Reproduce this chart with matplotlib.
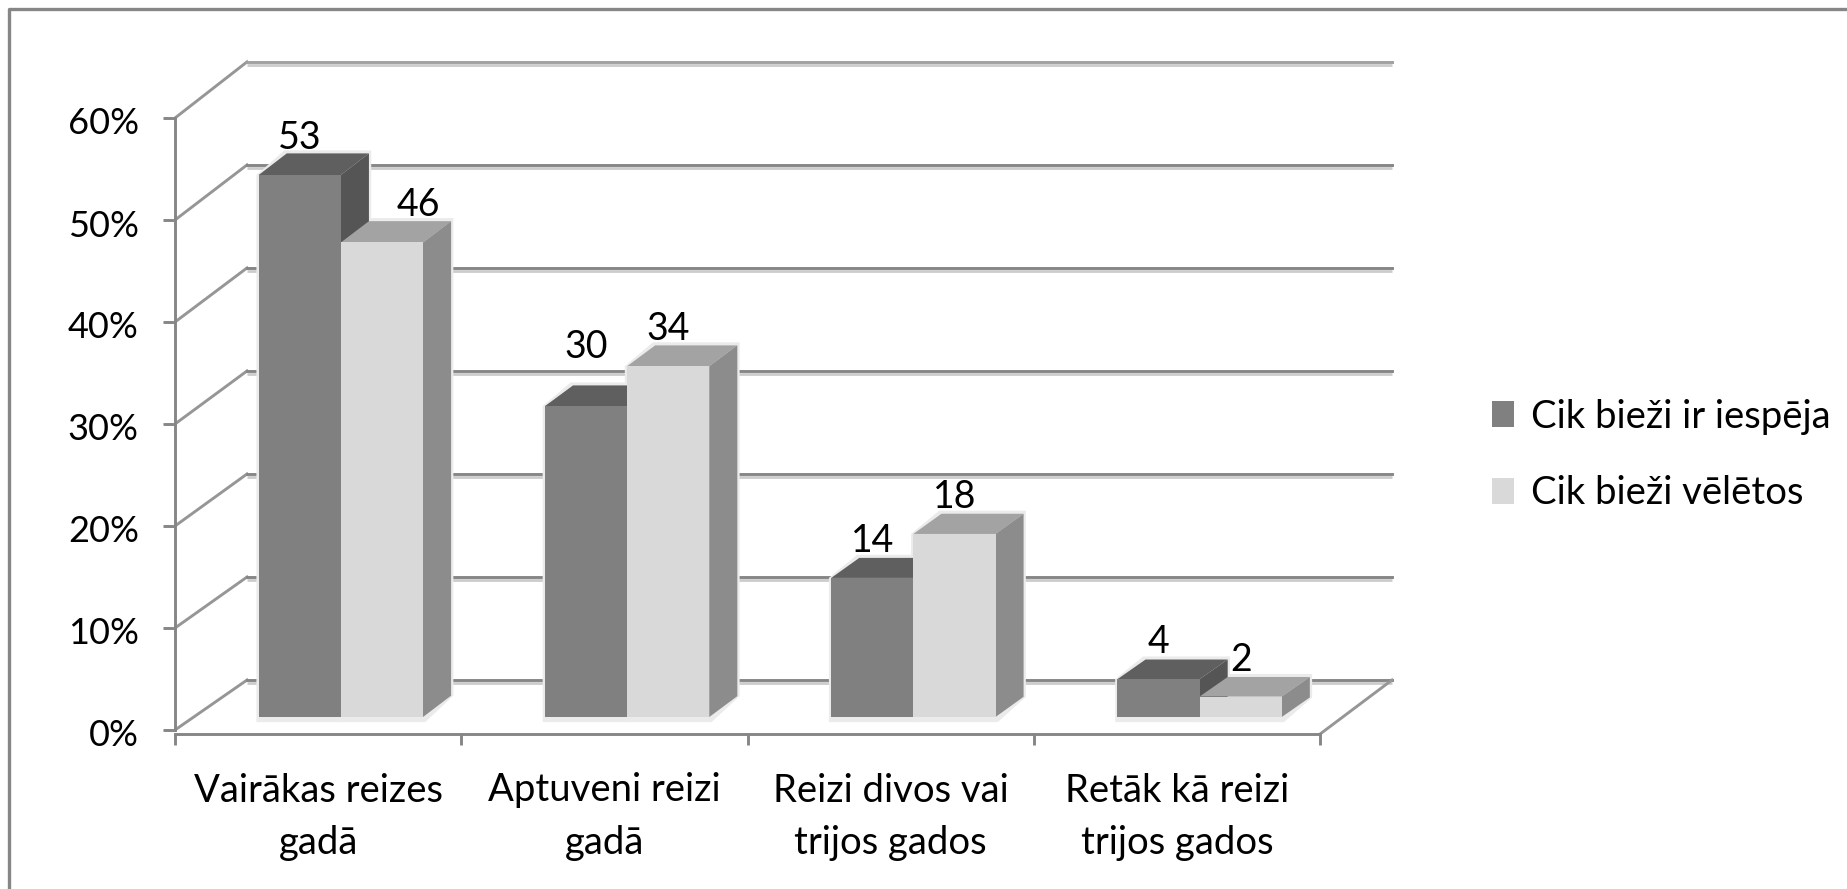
import matplotlib
matplotlib.use("Agg")
import matplotlib.pyplot as plt
from matplotlib.lines import Line2D
from matplotlib.patches import Patch, Polygon
from matplotlib.transforms import ScaledTranslation

categories = ["Vairākas reizes\ngadā", "Aptuveni reizi\ngadā", "Reizi divos vai\ntrijos gados", "Retāk kā reizi\ntrijos gados"]
series_names = ["Cik bieži ir iespēja", "Cik bieži vēlētos"]
# bar heights, the labels show them rounded
iespeja = [53.0, 30.4, 13.6, 3.7]
veletos = [46.4, 34.3, 17.9, 2.0]
y_ticks = [0, 10, 20, 30, 40, 50, 60]

W, H = 1847, 889
# front plane of the fake 3d box, in pixels
LEFT, RIGHT, Y0, Y60 = 175, 1320, 730, 118
DEPTH_X = 72 / ((RIGHT - LEFT) / 4)  # in category units
GAP = 0.227
BAR_W = 0.287
D_FRONT, D_BACK = 0.26, 0.65

GRID = "#868686"
SHADOW = "#cccccc"
HALO = "#ebebeb"
COLORS = [("#808080", "#5f5f5f", "#555555"), ("#d9d9d9", "#a3a3a3", "#8c8c8c")]

plt.rcParams["font.family"] = ["Lato", "DejaVu Sans"]

fig = plt.figure(figsize=(W / 100, H / 100), dpi=100)
ax = fig.add_axes([LEFT / W, 1 - Y0 / H, (RIGHT - LEFT) / W, (Y0 - Y60) / H])
ax.set_xlim(0, 4)
ax.set_ylim(0, 60)
ax.patch.set_alpha(0)


def project(x, v, d):
    # category pos, percent, depth 0..1 -> axes data
    return x + d * DEPTH_X, v * (1 + 0.01 * d) + 4.9 * d


# walls and gridlines
for t in y_ticks:
    x0, y0 = project(0, t, 0)
    x1, y1 = project(0, t, 1)
    x2, y2 = project(4, t, 1)
    c = "#a0a0a0" if t == 60 else GRID
    ax.plot([x1, x2], [y1 - 0.3, y2 - 0.3], color=SHADOW, lw=2.0, zorder=1, clip_on=False, solid_capstyle="butt")
    ax.plot([x0, x1], [y0, y1], color="#969696", lw=2.1, zorder=2, clip_on=False)
    ax.plot([x1, x2], [y1, y2], color=c, lw=2.1, zorder=2, clip_on=False)
x0, y0 = project(4, 0, 0)
x1, y1 = project(4, 0, 1)
ax.plot([x0, x1], [y0 - 0.4, y1], color="#969696", lw=2.1, zorder=2, clip_on=False)


def draw_bar(x, v, colors):
    front, top, side = colors
    fx, fy = project(x, 0, D_FRONT)
    tx, ty = project(x, v, D_FRONT)
    h = ty - fy
    bx, by = project(x, v, D_BACK)
    dx, dy = bx - tx, by - ty
    xs = [fx, fx + BAR_W, fx + BAR_W + dx, fx + dx]
    # light edge round the whole bar
    ax.add_patch(Polygon([(fx - 0.008, fy - 0.5), (fx + BAR_W + 0.008, fy - 0.5), (fx + BAR_W + dx + 0.008, fy + dy),
                          (fx + BAR_W + dx + 0.008, ty + dy + 0.3), (fx + dx - 0.008, ty + dy + 0.3), (fx - 0.008, ty)],
                         fc=HALO, ec="none", zorder=3, clip_on=False))
    ax.bar(fx, h, BAR_W, bottom=fy, align="edge", color=front, zorder=5, clip_on=False)
    ax.add_patch(Polygon([(xs[0], ty), (xs[1], ty), (xs[2], ty + dy), (xs[3], ty + dy)], fc=top, ec="none", zorder=4, clip_on=False))
    ax.add_patch(Polygon([(xs[1], fy), (xs[1], ty), (xs[2], ty + dy), (xs[2], fy + dy)], fc=side, ec="none", zorder=4, clip_on=False))
    return fx + BAR_W / 2, ty


# hand placed labels in the original: (series, category) -> px shift
label_shift = {(1, 0): (36, 0), (0, 1): (0, 22)}
for s, vals in enumerate([iespeja, veletos]):
    for i, v in enumerate(vals):
        cx, ty = draw_bar(i + GAP + s * BAR_W, v, COLORS[s])
        sx, sy = label_shift.get((s, i), (0, 0))
        ax.annotate(f"{v:.0f}", (cx, ty), xytext=(sx * 0.72, (37 + sy) * 0.72), textcoords="offset points",
                    ha="center", va="center", fontsize=27, color="black", zorder=8, annotation_clip=False)

# real axes for ticks and labels
for name in ["top", "right"]:
    ax.spines[name].set_visible(False)
ax.spines["left"].set(color=GRID, linewidth=2.1, zorder=3)
ax.spines["bottom"].set(color=GRID, linewidth=2.1, zorder=3, position=("outward", 2.6))
ax.set_yticks(y_ticks, [f"{t}%" for t in y_ticks], fontsize=26)
ax.set_xticks(range(5), [""] * 5)
ax.set_xticks([0.5, 1.5, 2.5, 3.5], categories, minor=True, fontsize=27.5, linespacing=1.58)
ax.tick_params(axis="y", length=9, width=2.1, color=GRID, pad=17)
ax.tick_params(axis="x", which="major", length=8, width=2.1, color=GRID)
ax.tick_params(axis="x", which="minor", length=0, pad=28)
for lab in ax.get_yticklabels():
    lab.set_transform(lab.get_transform() + ScaledTranslation(0, -3 / 100, fig.dpi_scale_trans))

# outer frame: only left and top reach into the picture
fig.add_artist(Line2D([9 / W, 9 / W, 1], [0, 1 - 9 / H, 1 - 9 / H], color=GRID, lw=2.4))

handles = [Patch(fc=COLORS[0][0], ec="none"), Patch(fc=COLORS[1][0], ec="none")]
fig.legend(handles, series_names, loc="center left", bbox_to_anchor=(1492 / W, 1 - 455 / H), frameon=False,
           fontsize=27.5, handlelength=0.58, handleheight=0.66, handletextpad=0.44, labelspacing=1.06, borderpad=0, borderaxespad=0)

fig.savefig("out.png", dpi=100, facecolor="white")
